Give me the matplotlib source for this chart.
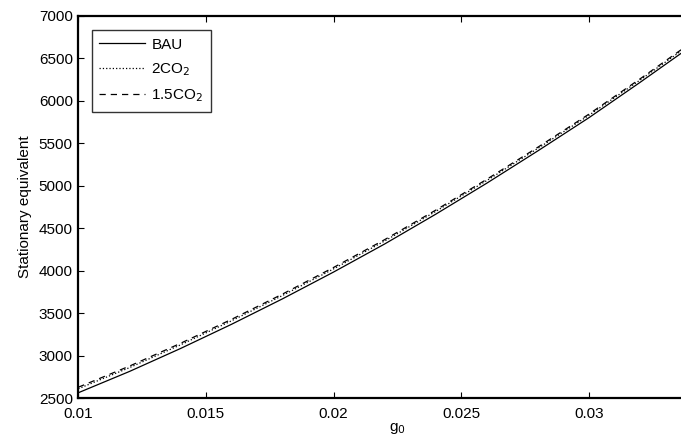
import numpy as np
import matplotlib
matplotlib.use("Agg")
import matplotlib.pyplot as plt

plt.rcParams['font.family'] = ['Liberation Sans', 'DejaVu Sans']

# valeurs
g0 = [0.010, 0.012, 0.014, 0.016, 0.018, 0.020, 0.022, 0.024, 0.026, 0.028, 0.030, 0.032, 0.034]
bau = [2565, 2815, 3085, 3370, 3670, 3985, 4315, 4665, 5030, 5410, 5800, 6215, 6640]
co2_2 = [2612, 2860, 3128, 3411, 3709, 4022, 4350, 4698, 5061, 5439, 5828, 6242, 6668]
co2_15 = [2630, 2878, 3146, 3428, 3726, 4039, 4366, 4713, 5076, 5453, 5842, 6256, 6682]

xticks = [0.01, 0.015, 0.02, 0.025, 0.03]
xticklabels = ['0.01', '0.015', '0.02', '0.025', '0.03']
yticks = [2500, 3000, 3500, 4000, 4500, 5000, 5500, 6000, 6500, 7000]

fig = plt.figure(figsize=(6.81, 4.45), dpi=100)
ax = fig.add_axes([0.115, 0.105, 0.937, 0.8595])

ax.plot(g0, bau, '-', color='black', linewidth=0.9, label='BAU')
ax.plot(g0, co2_2, ':', color='black', linewidth=0.9, label=r'2CO$_2$')
ax.plot(g0, co2_15, '--', color='black', linewidth=0.9, dashes=(5, 4), label=r'1.5CO$_2$')

ax.set_xlim(0.01, 0.035)
ax.set_ylim(2500, 7000)
ax.set_xticks(xticks)
ax.set_xticklabels(xticklabels)
ax.set_yticks(yticks)
ax.tick_params(direction='in', top=True, right=True, length=4, width=0.8,
               labelsize=11)
ax.tick_params(axis='x', pad=6)
ax.tick_params(axis='y', pad=4)
for s in ax.spines.values():
    s.set_linewidth(1.6)

ax.set_xlabel(r'g$_0$', fontsize=11, labelpad=0)
ax.set_ylabel('Stationary equivalent', fontsize=11, labelpad=5)

leg = ax.legend(loc='upper left', bbox_to_anchor=(0.021, 0.963), fontsize=11,
                frameon=True, fancybox=False, edgecolor='black',
                handlelength=3.0, handletextpad=0.4, borderpad=0.5,
                labelspacing=0.62, borderaxespad=0)
leg.get_frame().set_linewidth(1.0)

fig.savefig('out.png', dpi=100)
